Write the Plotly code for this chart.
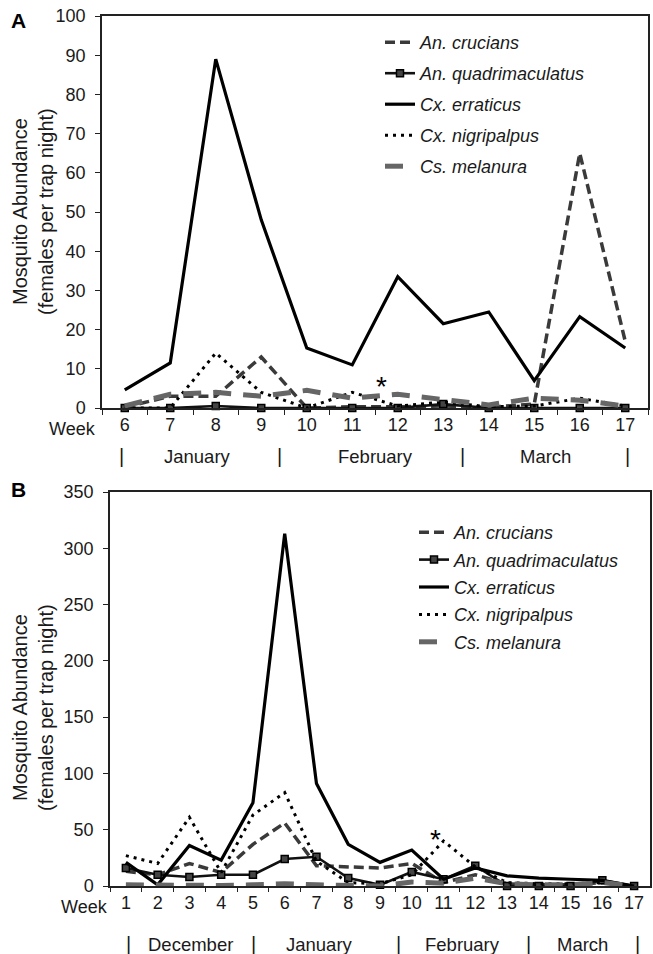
import plotly.graph_objects as go

# ---------------- Data ----------------
weeks_a = ["6", "7", "8", "9", "10", "11", "12", "13", "14", "15", "16", "17"]
crucians_a = [0.2, 3.0, 3.0, 13.0, 0.0, 0.3, 0.3, 0.5, 0.2, 1.0, 65.0, 17.0]
quadri_a = [0.0, 0.0, 0.5, 0.0, 0.0, 0.0, 0.0, 1.0, 0.0, 0.0, 0.0, 0.0]
erraticus_a = [4.6, 11.5, 89.0, 48.0, 15.3, 11.0, 33.5, 21.5, 24.5, 7.0, 23.3, 15.3]
nigripalpus_a = [0.0, 0.0, 14.0, 4.0, 0.0, 4.0, 0.5, 1.5, 0.3, 0.5, 2.5, 0.5]
melanura_a = [0.5, 3.5, 4.0, 3.0, 4.5, 2.5, 3.5, 2.0, 0.8, 2.5, 2.0, 0.5]

weeks_b = [str(i) for i in range(1, 18)]
crucians_b = [13, 10, 20, 12, 37, 56, 18, 17, 16, 20, 3, 10, 2, 1, 1, 3, 0]
quadri_b = [16, 10, 8, 10, 10, 24, 26, 7, 1, 12.5, 6, 18, 0, 0, 0, 5, 0]
erraticus_b = [21, 1, 36, 23, 74, 313, 91, 37, 21, 32, 6, 16, 9, 7, 6, 5, 0]
nigripalpus_b = [27, 20, 61, 12, 63, 83, 22, 3, 2, 10, 40, 17, 3, 2, 2, 3, 0]
melanura_b = [1, 0.5, 0.5, 0.5, 1, 2, 1, 0, 0, 3.5, 2.5, 7, 2, 1, 1, 3, 0]

species = ["An. crucians", "An. quadrimaculatus", "Cx. erraticus", "Cx. nigripalpus", "Cs. melanura"]

months_a = ["January", "February", "March"]
months_b = ["December", "January", "February", "March"]
y_title = "Mosquito Abundance<br>(females per trap night)"

FONT = "Arial, Liberation Sans, sans-serif"
TXT = "#1a1a1a"

styles = [
    dict(line=dict(color="#3a3a3a", width=3.5, dash="10px,5px"), mode="lines"),
    dict(line=dict(color="#111111", width=2.6), mode="lines+markers",
         marker=dict(symbol="square", size=7, color="#444444", line=dict(color="#000000", width=1.5))),
    dict(line=dict(color="#000000", width=3.2), mode="lines"),
    dict(line=dict(color="#000000", width=3, dash="3px,5px"), mode="lines"),
    dict(line=dict(color="#666666", width=5, dash="18px,12px"), mode="lines"),
]

fig = go.Figure()

series_a = [crucians_a, quadri_a, erraticus_a, nigripalpus_a, melanura_a]
series_b = [crucians_b, quadri_b, erraticus_b, nigripalpus_b, melanura_b]

for i, (name, ys) in enumerate(zip(species, series_a)):
    fig.add_trace(go.Scatter(x=weeks_a, y=ys, name=name, xaxis="x", yaxis="y",
                             legend="legend", legendgroup="a%d" % i, cliponaxis=False,
                             **styles[i]))
for i, (name, ys) in enumerate(zip(species, series_b)):
    fig.add_trace(go.Scatter(x=weeks_b, y=ys, name=name, xaxis="x2", yaxis="y2",
                             legend="legend2", legendgroup="b%d" % i, cliponaxis=False,
                             **styles[i]))

W, H = 653, 954

def px_x(p):
    return p / W

def px_y(p):
    return 1 - p / H

def axis_common():
    return dict(showline=True, linecolor="#222222", linewidth=1.5, mirror=True,
                showgrid=False, zeroline=False, ticks="outside", ticklen=5,
                tickcolor="#222222", tickwidth=1.3,
                tickfont=dict(family=FONT, size=18, color=TXT))

fig.update_layout(
    width=W, height=H,
    margin=dict(l=0, r=0, t=0, b=0, pad=0, autoexpand=False),
    paper_bgcolor="white", plot_bgcolor="white",
    font=dict(family=FONT, size=18, color=TXT),
    xaxis=dict(domain=[px_x(102), px_x(648)], anchor="y", type="category",
               range=[-0.5, len(weeks_a) - 0.5], autorange=False,
               tickson="boundaries", **axis_common()),
    yaxis=dict(domain=[px_y(408), px_y(16)], anchor="x", range=[0, 100], dtick=10,
               ticklabelstandoff=6, **axis_common()),
    xaxis2=dict(domain=[px_x(110), px_x(650)], anchor="y2", type="category",
                range=[-0.5, len(weeks_b) - 0.5], autorange=False,
                tickson="boundaries", **axis_common()),
    yaxis2=dict(domain=[px_y(886), px_y(492)], anchor="x2", range=[0, 350], dtick=50,
                ticklabelstandoff=6, **axis_common()),
    legend=dict(x=px_x(380), y=px_y(24), xanchor="left", yanchor="top",
                traceorder="grouped", tracegroupgap=4.6, itemwidth=30,
                font=dict(family=FONT, size=18, color=TXT, style="italic"),
                bgcolor="rgba(0,0,0,0)"),
    legend2=dict(x=px_x(414), y=px_y(514), xanchor="left", yanchor="top",
                 traceorder="grouped", tracegroupgap=1, itemwidth=30,
                 font=dict(family=FONT, size=18, color=TXT, style="italic"),
                 bgcolor="rgba(0,0,0,0)"),
    showlegend=True,
)
fig.update_xaxes(selector=dict(anchor="y2"), ticklen=4)

ann = []
def pann(text, x, y, size, xanchor="center", bold=False, angle=0):
    return dict(text=text, x=x, y=y, xref="paper", yref="paper", xanchor=xanchor,
                yanchor="middle", showarrow=False, textangle=angle,
                font=dict(family=FONT, size=size, color="#000" if bold else TXT))

ann.append(pann("<b>A</b>", px_x(18), px_y(20), 21, bold=True))
ann.append(pann("<b>B</b>", px_x(18), px_y(490), 21, bold=True))
ann.append(pann(y_title, px_x(33), px_y(212), 20, angle=-90))
ann.append(pann(y_title, px_x(33), px_y(708), 20, angle=-90))
ann.append(pann("Week", px_x(98), px_y(429), 18, xanchor="right"))
ann.append(pann("Week", px_x(110), px_y(907), 18, xanchor="right"))
for xv in [-0.07, 3.41, 7.43, 11.06]:
    ann.append(dict(text="|", x=xv, y=px_y(456), xref="x", yref="paper", yanchor="middle",
                    showarrow=False, font=dict(family=FONT, size=20, color=TXT)))
for xv, m in zip([1.59, 5.5, 9.24], months_a):
    ann.append(dict(text=m, x=xv, y=px_y(456), xref="x", yref="paper", yanchor="middle",
                    showarrow=False, font=dict(family=FONT, size=18.5, color=TXT)))
for xv in [0.07, 4.03, 8.57, 12.69, 16.12]:
    ann.append(dict(text="|", x=xv, y=px_y(944), xref="x2", yref="paper", yanchor="middle",
                    showarrow=False, font=dict(family=FONT, size=20, color=TXT)))
for xv, m in zip([2.02, 6.11, 10.61, 14.39], months_b):
    ann.append(dict(text=m, x=xv, y=px_y(944), xref="x2", yref="paper", yanchor="middle",
                    showarrow=False, font=dict(family=FONT, size=18.5, color=TXT)))
ann.append(dict(text="*", x=5.65, y=5.5, xref="x", yref="y", showarrow=False,
                font=dict(family=FONT, size=28, color="#000")))
ann.append(dict(text="*", x=9.76, y=41, xref="x2", yref="y2", showarrow=False,
                font=dict(family=FONT, size=28, color="#000")))

fig.update_layout(annotations=ann)

fig.write_html("out.html", config={"displayModeBar": False},
               post_script="document.body.style.margin='0';document.body.style.overflow='hidden';")
